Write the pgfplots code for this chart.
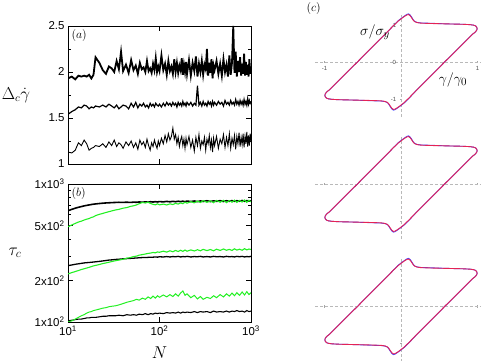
\documentclass[border=0pt]{standalone}
\usepackage{fontspec}
\setmainfont{Liberation Sans}
\usepackage{pgfplots}
\usepackage{pgfplotstable}
\pgfplotsset{compat=1.18}
\definecolor{lgreen}{RGB}{35,240,35}
\definecolor{lred}{RGB}{228,35,85}
\definecolor{lblue}{RGB}{70,70,255}

\pgfplotstableread{
N top mid bot
10 1.93 1.54 1.13
11 1.95 1.57 1.12
12 1.92 1.59 1.15
13 1.96 1.62 1.23
14 1.95 1.61 1.20
15 1.96 1.64 1.26
16 1.95 1.63 1.22
17 1.97 1.60 1.15
18 1.93 1.62 1.17
19 1.97 1.61 1.18
20 2.16 1.63 1.20
22 2.10 1.62 1.19
24 2.02 1.64 1.22
26 1.98 1.62 1.18
28 2.06 1.65 1.24
30 2.04 1.63 1.20
32 2.00 1.61 1.26
34 2.12 1.64 1.19
36 2.03 1.60 1.23
38 2.22 1.62 1.21
40 2.01 1.64 1.17
43 2.08 1.63 1.24
46 1.99 1.60 1.20
49 2.13 1.66 1.25
52 2.02 1.62 1.18
55 2.07 1.67 1.23
58 1.98 1.61 1.16
61 2.10 1.65 1.26
64 2.03 1.63 1.21
67 2.05 1.66 1.24
70 2.00 1.62 1.18
73 2.12 1.64 1.27
76 2.01 1.61 1.20
79 2.04 1.66 1.15
82 1.99 1.63 1.23
85 2.09 1.65 1.19
88 2.02 1.62 1.26
91 2.15 1.66 1.21
94 2.00 1.64 1.17
97 2.06 1.63 1.25
100 2.01 1.65 1.20
105 2.18 1.62 1.28
110 2.02 1.66 1.22
115 2.09 1.63 1.31
120 1.97 1.67 1.24
125 2.12 1.64 1.33
130 2.01 1.66 1.26
135 2.06 1.63 1.30
140 1.98 1.67 1.39
145 2.14 1.64 1.27
150 2.00 1.66 1.32
155 2.10 1.62 1.22
160 1.99 1.67 1.29
165 2.07 1.64 1.19
170 2.02 1.66 1.26
175 2.15 1.63 1.30
180 1.97 1.68 1.20
185 2.08 1.64 1.27
190 2.00 1.66 1.17
195 2.11 1.63 1.28
200 1.98 1.67 1.21
210 2.13 1.64 1.30
220 1.96 1.67 1.18
230 2.10 1.63 1.26
240 2.01 1.66 1.14
250 2.17 1.64 1.29
260 1.95 1.85 1.20
270 2.09 1.64 1.32
280 2.00 1.67 1.17
290 2.12 1.63 1.25
300 1.97 1.68 1.21
310 2.08 1.64 1.29
320 2.03 1.66 1.15
330 2.25 1.63 1.27
340 1.96 1.68 1.22
350 2.10 1.65 1.31
360 1.99 1.67 1.18
370 2.14 1.63 1.26
380 1.93 1.68 1.13
390 2.07 1.64 1.28
400 2.02 1.67 1.20
420 2.12 1.64 1.30
440 1.98 1.68 1.17
460 2.09 1.65 1.27
480 1.96 1.67 1.22
500 2.14 1.63 1.32
520 2.00 1.69 1.18
540 2.08 1.65 1.29
560 1.95 1.67 1.20
580 2.18 1.64 1.33
600 1.97 1.69 1.17
620 2.10 1.65 1.28
640 2.50 1.67 1.21
660 1.99 1.64 1.31
680 2.22 1.70 1.16
700 1.95 1.65 1.30
720 2.12 1.68 1.22
740 2.00 1.64 1.34
760 2.16 1.69 1.19
780 1.96 1.65 1.29
800 2.09 1.68 1.21
820 1.98 1.64 1.33
840 2.20 1.70 1.18
860 1.96 1.65 1.30
880 2.11 1.68 1.22
900 1.97 1.64 1.35
920 2.08 1.71 1.19
940 1.95 1.65 1.31
960 2.14 1.69 1.20
980 1.98 1.66 1.33
1000 2.06 1.68 1.25
}\taba

\pgfplotstableread{
N bka gra bkb grb bkc grc
10 640 490 256 223 102 100
11 655 505 259 228 103 102
12 668 518 262 232 104 105
13 678 530 264 236 105 108
14 686 538 266 240 105 111
15 694 548 268 243 106 113
16 700 556 269 246 107 116
17 705 562 270 249 107 118
18 710 572 271 252 108 119
19 714 578 272 255 108 121
20 717 590 273 257 108 122
22 722 603 275 261 109 124
24 726 612 277 265 110 126
26 729 622 279 268 110 127
28 731 630 281 271 111 129
30 733 638 282 274 111 130
33 735 648 284 278 111 131
36 737 655 285 281 112 133
40 736 668 287 285 111 136
44 738 675 288 290 113 139
48 735 688 289 293 112 141
52 739 695 290 298 113 143
56 737 705 291 300 112 146
60 741 720 292 305 114 144
65 738 735 293 308 113 149
70 742 728 293 311 115 146
75 739 738 294 314 113 152
80 744 722 295 316 115 148
85 740 712 295 319 114 154
90 745 706 296 317 116 149
95 741 718 295 322 115 155
100 746 706 297 320 116 151
110 742 715 296 326 115 157
120 748 705 298 321 117 152
130 743 718 296 328 116 158
140 749 710 298 323 117 153
150 744 724 297 330 116 160
160 750 715 299 324 118 154
170 745 730 296 331 116 162
180 751 720 298 325 118 168
190 744 738 297 332 117 156
200 752 726 299 326 118 160
220 746 745 296 333 117 150
240 753 730 298 327 119 156
260 745 752 297 334 117 147
280 754 734 299 328 119 153
300 747 758 296 336 118 146
330 756 736 298 329 119 151
360 746 755 296 335 117 148
390 755 732 299 328 120 155
420 748 760 297 337 118 150
460 757 737 298 330 119 158
500 747 762 296 338 118 152
540 756 733 299 331 120 160
580 749 758 297 336 118 154
620 758 738 298 330 120 162
660 748 764 296 339 119 155
700 757 735 299 332 121 163
750 750 760 297 337 119 156
800 759 740 299 331 120 165
850 749 766 296 340 118 157
900 758 736 298 333 121 166
950 751 762 297 338 119 158
1000 756 742 299 335 120 163
}\tabb

\pgfplotstableread{
x y
-0.94 -0.76
-0.80 -0.47
-0.57 0.00
-0.35 0.46
-0.20 0.77
-0.10 0.98
-0.04 1.10
0.01 1.18
0.05 1.24
0.08 1.275
0.10 1.28
0.12 1.25
0.14 1.19
0.16 1.13
0.18 1.09
0.21 1.065
0.26 1.05
0.40 1.04
0.60 1.03
0.80 1.02
0.90 1.01
0.95 0.995
0.975 0.975
0.99 0.94
0.995 0.90
0.99 0.86
0.975 0.82
0.96 0.79
0.94 0.76
0.80 0.47
0.57 0.00
0.35 -0.46
0.20 -0.77
0.10 -0.98
0.04 -1.10
-0.01 -1.18
-0.05 -1.24
-0.08 -1.275
-0.10 -1.28
-0.12 -1.25
-0.14 -1.19
-0.16 -1.13
-0.18 -1.09
-0.21 -1.065
-0.26 -1.05
-0.40 -1.04
-0.60 -1.03
-0.80 -1.02
-0.90 -1.01
-0.95 -0.995
-0.975 -0.975
-0.99 -0.94
-0.995 -0.90
-0.99 -0.86
-0.975 -0.82
-0.96 -0.79
-0.94 -0.76
}\loopred

\pgfplotstableread{
x y
-0.94 -0.76
-0.80 -0.47
-0.57 0.00
-0.35 0.46
-0.20 0.77
-0.10 0.98
-0.04 1.11
0.01 1.19
0.05 1.25
0.08 1.29
0.10 1.30
0.12 1.27
0.14 1.21
0.16 1.14
0.18 1.095
0.21 1.07
0.26 1.055
0.40 1.045
0.60 1.03
0.80 1.02
0.90 1.01
0.95 0.995
0.975 0.975
0.99 0.94
0.995 0.90
0.99 0.86
0.975 0.82
0.96 0.79
0.94 0.76
0.80 0.47
0.57 0.00
0.35 -0.46
0.20 -0.77
0.10 -0.99
0.04 -1.11
-0.01 -1.19
-0.05 -1.25
-0.08 -1.29
-0.10 -1.30
-0.12 -1.27
-0.14 -1.21
-0.16 -1.14
-0.18 -1.095
-0.21 -1.07
-0.26 -1.055
-0.40 -1.045
-0.60 -1.03
-0.80 -1.02
-0.90 -1.01
-0.95 -0.995
-0.975 -0.975
-0.99 -0.94
-0.995 -0.90
-0.99 -0.86
-0.975 -0.82
-0.96 -0.79
-0.94 -0.76
}\loopblue

\begin{document}
\begin{tikzpicture}
\path[use as bounding box] (0bp,0bp) rectangle (485bp,361bp);

% panel (a)
\begin{axis}[at={(68bp,197bp)}, anchor=south west,
  scale only axis, width=183bp, height=138bp,
  xmode=log, xmin=10, xmax=1000, xminorticks=false,
  ymin=1, ymax=2.5,
  tick label style={font=\fontsize{11.5}{13}\selectfont},
  major tick length=5bp, minor tick length=3bp,
  axis line style={line width=0.9pt},
  tick style={line width=0.6pt, black},
  xtick={100}, xticklabels={},
  ytick={1,1.5,2,2.5}, yticklabels={1,1.5,2,2.5},
  minor ytick={1.25,1.75,2.25},
  ylabel={$\Delta_c\dot\gamma$},
  ylabel style={rotate=-90, at={(axis description cs:-0.285,0.5)}, anchor=center, font=\fontsize{16}{19}\selectfont},
]
\addplot[black, line width=1.8pt] table[x=N, y=top] {\taba};
\addplot[black, line width=1.2pt] table[x=N, y=mid] {\taba};
\addplot[black, line width=0.9pt] table[x=N, y=bot] {\taba};
\node[anchor=north west, font=\fontsize{11.5}{13}\selectfont] at (rel axis cs:0.0,1.0) {$(a)$};
\end{axis}

% panel (b)
\begin{axis}[at={(68bp,39bp)}, anchor=south west,
  scale only axis, width=183bp, height=138bp,
  xmode=log, xmin=10, xmax=1000, xminorticks=false,
  ymode=log, ymin=100, ymax=1000,
  tick label style={font=\fontsize{11.5}{13}\selectfont},
  major tick length=5bp, minor tick length=3bp,
  axis line style={line width=0.9pt},
  tick style={line width=0.6pt, black},
  xtick={10,100,1000},
  xticklabels={10\textsuperscript{1},10\textsuperscript{2},10\textsuperscript{3}},
  ytick={100,200,500,1000},
  yticklabels={1x10\textsuperscript{2},2x10\textsuperscript{2},5x10\textsuperscript{2},1x10\textsuperscript{3}},
  minor ytick={300,400,600,700,800,900},
  ylabel={$\tau_c$},
  ylabel style={rotate=-90, at={(axis description cs:-0.29,0.5)}, anchor=center, font=\fontsize{17}{20}\selectfont},
  xlabel={$N$},
  xlabel style={at={(axis description cs:0.5,-0.225)}, anchor=center, font=\fontsize{16}{19}\selectfont},
]
\addplot[black, line width=1.6pt] table[x=N, y=bka] {\tabb};
\addplot[lgreen, line width=1.1pt] table[x=N, y=gra] {\tabb};
\addplot[black, line width=1.3pt] table[x=N, y=bkb] {\tabb};
\addplot[lgreen, line width=1.1pt] table[x=N, y=grb] {\tabb};
\addplot[black, line width=1.1pt] table[x=N, y=bkc] {\tabb};
\addplot[lgreen, line width=1.0pt] table[x=N, y=grc] {\tabb};
\node[anchor=north west, font=\fontsize{11.5}{13}\selectfont] at (rel axis cs:0.0,1.0) {$(b)$};
\end{axis}

% panel (c) top
\begin{axis}[at={(401bp,299bp)}, anchor=origin,
  scale only axis, width=166bp, height=103.6bp,
  xmin=-1.12, xmax=1.05, ymin=-1.49, ymax=1.31,
  axis lines=middle,
  axis line style={-, densely dashed, gray!55, line width=0.5pt},
  xtick={-1,1}, ytick={-1,1},
  tick style={gray!70, line width=0.4pt},
  major tick length=2.5bp,
  tick label style={font=\fontsize{6}{7}\selectfont, text=gray!60!black},
  clip=false,
  xticklabels={-1,1}, yticklabels={-1,1}]
\addplot[lblue, line width=0.9pt] table[x=x, y=y] {\loopblue};
\addplot[lred, line width=0.9pt] table[x=x, y=y] {\loopred};
\node[anchor=east, font=\fontsize{6}{7}\selectfont, text=gray!60!black] at (axis cs:-0.02,0) {0};
\node[font=\fontsize{15}{18}\selectfont] at (axis cs:-0.34,0.81) {$\sigma/\sigma_y$};
\node[font=\fontsize{15}{18}\selectfont] at (axis cs:0.68,-0.49) {$\gamma/\gamma_0$};
\node[font=\fontsize{12.5}{15}\selectfont] at (rel axis cs:-0.01,1.05) {$(c)$};
\end{axis}

% panel (c) middle
\begin{axis}[at={(401bp,177bp)}, anchor=origin,
  scale only axis, width=166bp, height=103.6bp,
  xmin=-1.12, xmax=1.05, ymin=-1.49, ymax=1.31,
  axis lines=middle,
  axis line style={-, densely dashed, gray!55, line width=0.5pt},
  xtick={-1,1}, ytick={-1,1},
  tick style={gray!70, line width=0.4pt},
  major tick length=2.5bp,
  clip=false,
  xticklabels={}, yticklabels={}]
\addplot[lblue, line width=0.9pt] table[x=x, y=y] {\loopblue};
\addplot[lred, line width=0.9pt] table[x=x, y=y] {\loopred};
\end{axis}

% panel (c) bottom
\begin{axis}[at={(401bp,54.5bp)}, anchor=origin,
  scale only axis, width=166bp, height=103.6bp,
  xmin=-1.12, xmax=1.05, ymin=-1.49, ymax=1.31,
  axis lines=middle,
  axis line style={-, densely dashed, gray!55, line width=0.5pt},
  xtick={-1,1}, ytick={-1,1},
  tick style={gray!70, line width=0.4pt},
  major tick length=2.5bp,
  clip=false,
  xticklabels={}, yticklabels={}]
\addplot[lblue, line width=0.9pt] table[x=x, y=y] {\loopblue};
\addplot[lred, line width=0.9pt] table[x=x, y=y] {\loopred};
\end{axis}
\end{tikzpicture}
\end{document}
